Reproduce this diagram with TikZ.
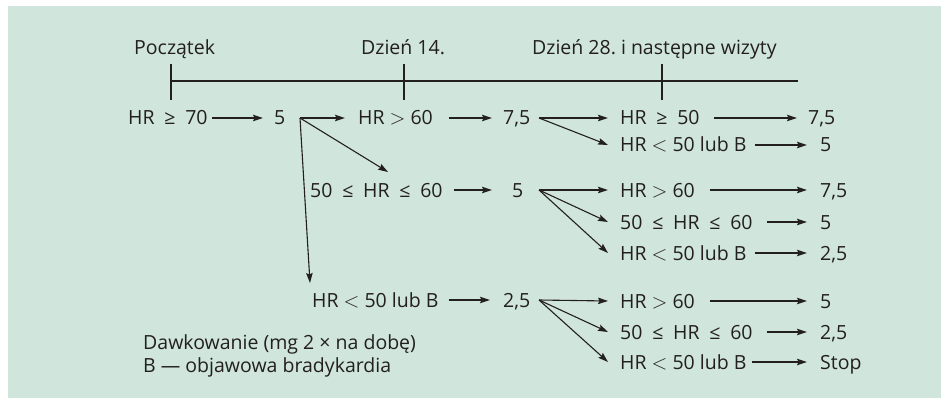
\documentclass[tikz,border=0pt]{standalone}
\usepackage{fontspec}
\setmainfont{Open Sans}
\usetikzlibrary{arrows.meta}
\definecolor{bg}{HTML}{D0E5DC}
\definecolor{ink}{HTML}{231F20}
\frenchspacing
\newcommand{\rsp}{\hspace{0.5em}}
\tikzset{
  lbl/.style={anchor=west, inner sep=0pt, text height=14pt, text depth=0pt, font=\fontsize{19.5}{23}\selectfont, text=ink},
  arr/.style={draw=ink, line width=1.1pt, -{Stealth[length=10pt,width=6.5pt,inset=1.5pt]}},
  ln/.style={draw=ink, line width=1.1pt},
}
\begin{document}
\begin{tikzpicture}[x=1pt,y=-1pt]
\useasboundingbox (0,0) rectangle (941,398);
\fill[bg] (8,6) rectangle (941,398);
% timeline
\node[lbl] (pocz) at (134,48) {Początek};
\node[lbl] (d14) at (361,48) {Dzień 14.};
\node[lbl] (d28) at (532,48) {Dzień 28. i następne wizyty};
\coordinate (tl0) at (171,81);
\coordinate (tl1) at (798,81);
\coordinate (t1a) at (171,64); \coordinate (t1b) at (171,100);
\coordinate (t2a) at (404,64); \coordinate (t2b) at (404,100);
\coordinate (t3a) at (662,64); \coordinate (t3b) at (662,100);
\draw[ln] (tl0) -- (tl1);
\draw[ln] (t1a) -- (t1b);
\draw[ln] (t2a) -- (t2b);
\draw[ln] (t3a) -- (t3b);
% column 1
\node[lbl] (r1a) at (128,118) {HR\rsp≥\rsp70};
\node[lbl] (r1b) at (274,118) {5};
% column 2
\node[lbl] (r1c) at (358,118) {HR $>$ 60};
\node[lbl] (r3c) at (310,190) {50\rsp≤\rsp HR\rsp≤\rsp60};
\node[lbl] (r6c) at (312,300) {HR $<$ 50 lub B};
% doses
\node[lbl] (r1d) at (503,118) {7,5};
\node[lbl] (r3d) at (512,190) {5};
\node[lbl] (r6d) at (503,300) {2,5};
% column 3
\node[lbl] (r1e) at (620,118) {HR\rsp≥\rsp50};
\node[lbl] (r2e) at (620,145) {HR $<$ 50 lub B};
\node[lbl] (r3e) at (620,190) {HR $>$ 60};
\node[lbl] (r4e) at (620,222) {50\rsp≤\rsp HR\rsp≤\rsp60};
\node[lbl] (r5e) at (620,253) {HR $<$ 50 lub B};
\node[lbl] (r7e) at (620,301) {HR $>$ 60};
\node[lbl] (r8e) at (620,332) {50\rsp≤\rsp HR\rsp≤\rsp60};
\node[lbl] (r9e) at (620,362) {HR $<$ 50 lub B};
% final doses
\node[lbl] (r1f) at (808,118) {7,5};
\node[lbl] (r2f) at (820,145) {5};
\node[lbl] (r3f) at (820,190) {7,5};
\node[lbl] (r4f) at (820,222) {5};
\node[lbl] (r5f) at (820,253) {2,5};
\node[lbl] (r7f) at (820,301) {5};
\node[lbl] (r8f) at (820,332) {2,5};
\node[lbl] (r9f) at (820,362) {Stop};
% legend
\node[lbl] (leg1) at (143,342) {Dawkowanie (mg 2 × na dobę)};
\node[lbl] (leg2) at (143,365) {B — objawowa bradykardia};
% branch points
\coordinate (b1) at (300,118);
\coordinate (b2) at (539,118);
\coordinate (b3) at (539,190);
\coordinate (b4) at (539,300);
% arrows
\draw[arr] ([xshift=4pt]r1a.east) -- ([xshift=-11pt]r1b.west);
\draw[arr] (b1) -- ([xshift=-13pt]r1c.west);
\draw[arr] (b1) -- ([xshift=78pt,yshift=18pt]r3c.west);
\draw[arr] (b1) -- ([xshift=-2pt,yshift=17pt]r6c.west);
\draw[arr] ([xshift=16pt]r1c.east) -- ([xshift=-11pt]r1d.west);
\draw[arr] ([xshift=11pt]r3c.east) -- ([xshift=-20pt]r3d.west);
\draw[arr] ([xshift=10pt]r6c.east) -- ([xshift=-13pt]r6d.west);
\draw[arr] (b2) -- ([xshift=-12pt]r1e.west);
\draw[arr] (b2) -- ([xshift=-12pt]r2e.west);
\draw[arr] (b3) -- ([xshift=-12pt]r3e.west);
\draw[arr] (b3) -- ([xshift=-12pt]r4e.west);
\draw[arr] (b3) -- ([xshift=-12pt]r5e.west);
\draw[arr] (b4) -- ([xshift=-12pt]r7e.west);
\draw[arr] (b4) -- ([xshift=-12pt]r8e.west);
\draw[arr] (b4) -- ([xshift=-12pt]r9e.west);
\draw[arr] ([xshift=14pt]r1e.east) -- ([xshift=-11pt]r1f.west);
\draw[arr] ([xshift=8pt]r2e.east) -- ([xshift=-13pt]r2f.west);
\draw[arr] ([xshift=15pt]r3e.east) -- ([xshift=-13pt]r3f.west);
\draw[arr] ([xshift=14pt]r4e.east) -- ([xshift=-13pt]r4f.west);
\draw[arr] ([xshift=8pt]r5e.east) -- ([xshift=-13pt]r5f.west);
\draw[arr] ([xshift=15pt]r7e.east) -- ([xshift=-13pt]r7f.west);
\draw[arr] ([xshift=14pt]r8e.east) -- ([xshift=-13pt]r8f.west);
\draw[arr] ([xshift=5pt]r9e.east) -- ([xshift=-13pt]r9f.west);
\end{tikzpicture}
\end{document}
